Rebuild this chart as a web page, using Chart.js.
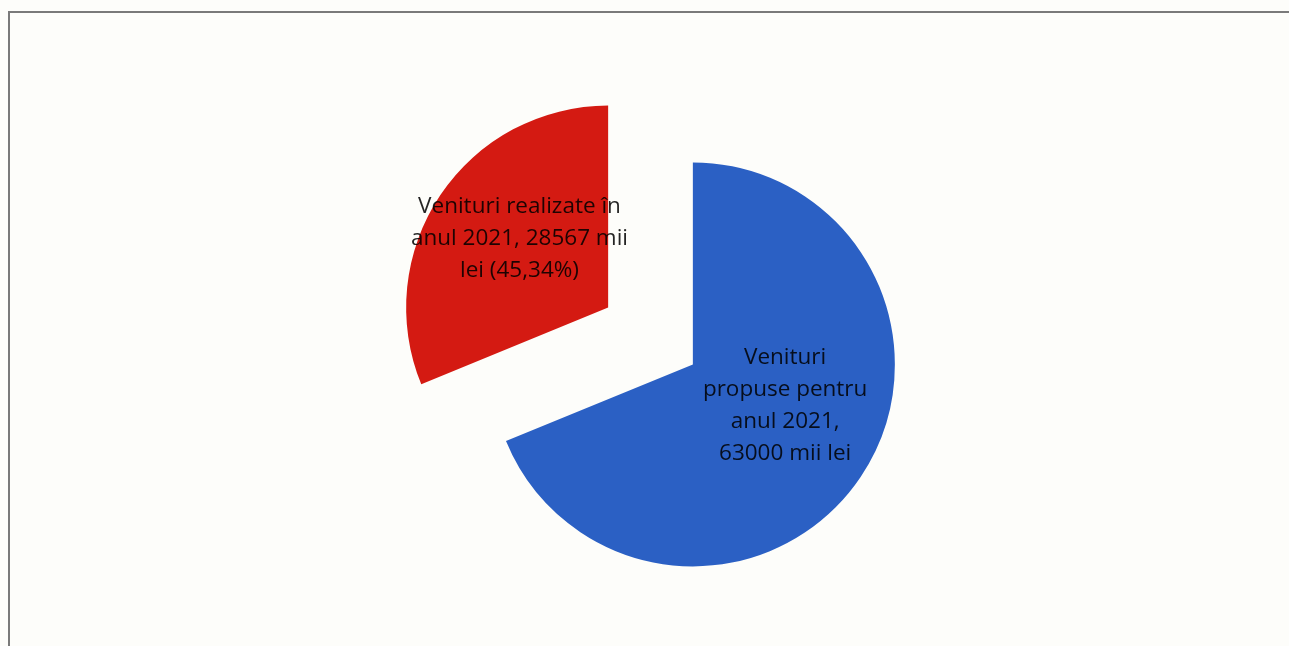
<!DOCTYPE html>
<html>
<head>
<meta charset="utf-8">
<script src="https://cdn.jsdelivr.net/npm/chart.js@4"></script>
<style>
  html, body { margin: 0; padding: 0; overflow: hidden; background: #fdfdfa; }
  .frame {
    position: absolute; left: 8px; top: 11px; width: 1400px; height: 800px;
    border: 2px solid #7a7a7a; box-sizing: border-box;
  }
  .wrap { position: absolute; left: 0; top: 0; width: 1289px; height: 646px; }
</style>
</head>
<body>
<div class="frame"></div>
<div class="wrap"><canvas id="chart"></canvas></div>
<script>
// slice data, in drawing order (clockwise from 12 o'clock)
const categories = [
  "Venituri propuse pentru anul 2021, 63000 mii lei",
  "Venituri realizate în anul 2021, 28567 mii lei (45,34%)",
];
const values = [63000, 28567];
const labelLines = [
  ["Venituri", "propuse pentru", "anul 2021,", "63000 mii lei"],
  ["Venituri realizate în", "anul 2021, 28567 mii", "lei (45,34%)"],
];
const sliceColors = ["#2b60c4", "#d41a12"];

const EXPLODE = 51;
// where each label sits: angle from 12 o'clock (deg), fraction of radius
const LABEL_ANCHORS = [[114, 0.5], [308, 0.557]];

// push each slice out along its mid-angle without growing its radius
const explodePlugin = {
  id: "explode",
  beforeDatasetsDraw(chart) {
    const ctx = chart.ctx;
    chart.getDatasetMeta(0).data.forEach((arc) => {
      const mid = (arc.startAngle + arc.endAngle) / 2;
      ctx.save();
      ctx.translate(Math.cos(mid) * EXPLODE, Math.sin(mid) * EXPLODE);
      arc.draw(ctx);
      ctx.restore();
    });
    return false;
  },
  afterDraw(chart) {
    const ctx = chart.ctx;
    ctx.save();
    ctx.font = "22.5px 'Open Sans'";
    ctx.textAlign = "center";
    ctx.textBaseline = "middle";
    ctx.fillStyle = "rgba(0,0,0,0.86)";
    chart.getDatasetMeta(0).data.forEach((arc, i) => {
      const mid = (arc.startAngle + arc.endAngle) / 2;
      const vx = arc.x + Math.cos(mid) * EXPLODE;
      const vy = arc.y + Math.sin(mid) * EXPLODE;
      const [deg, frac] = LABEL_ANCHORS[i];
      const t = (deg - 90) * Math.PI / 180;
      const px = vx + Math.cos(t) * frac * arc.outerRadius;
      const py = vy + Math.sin(t) * frac * arc.outerRadius;
      const lines = labelLines[i];
      const lh = 32;
      lines.forEach((line, k) => {
        ctx.fillText(line, px, py - (lines.length - 1) * lh / 2 + k * lh);
      });
    });
    ctx.restore();
  },
};

new Chart(document.getElementById("chart"), {
  type: "pie",
  data: {
    labels: categories,
    datasets: [{
      data: values,
      backgroundColor: sliceColors,
      borderWidth: 0,
    }],
  },
  options: {
    responsive: true,
    maintainAspectRatio: false,
    animation: false,
    layout: { padding: { top: 134, bottom: 108, left: 12, right: 0 } },
    plugins: {
      legend: { display: false },
      tooltip: { enabled: false },
    },
  },
  plugins: [explodePlugin],
});
</script>
</body>
</html>
